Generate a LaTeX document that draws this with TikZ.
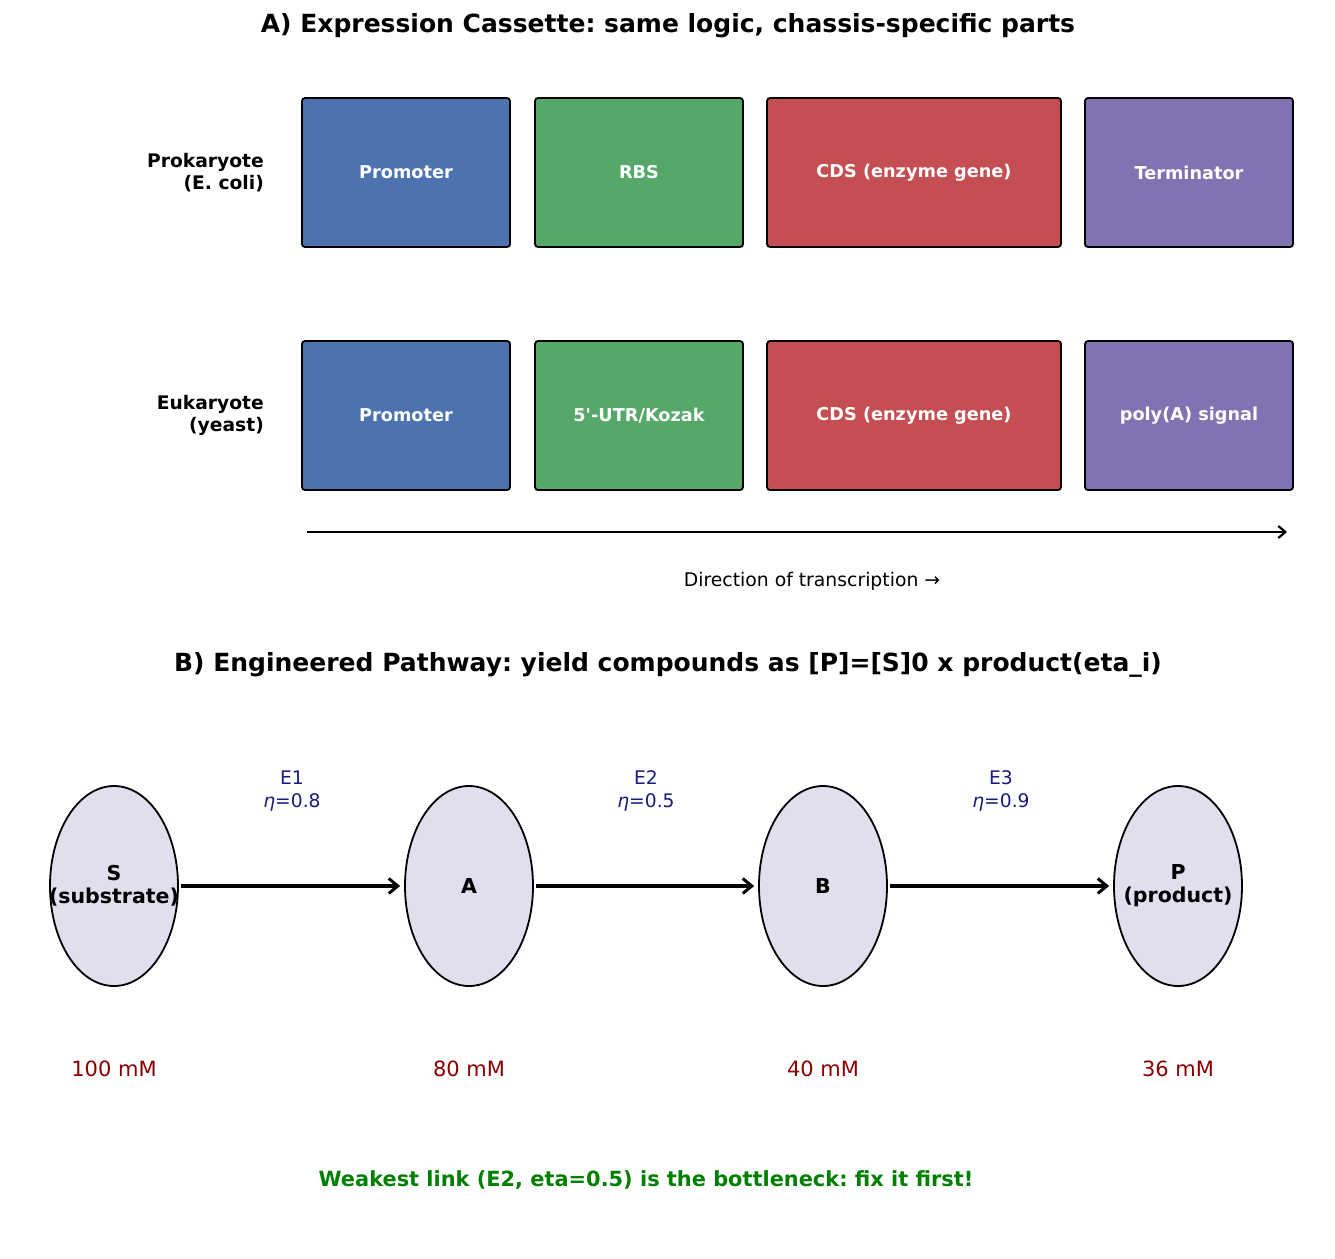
\documentclass[tikz,border=0pt]{standalone}
\usepackage{fontspec}
\setmainfont{DejaVu Sans}
\usetikzlibrary{arrows.meta,shapes.geometric}
\definecolor{cblue}{HTML}{4C72B0}
\definecolor{cgreen}{HTML}{55A868}
\definecolor{cred}{HTML}{C44E52}
\definecolor{cpurple}{HTML}{8172B2}
\definecolor{cell}{HTML}{DFDFEE}
\definecolor{cnavy}{HTML}{1A1A80}
\definecolor{cdred}{HTML}{8B0000}
\definecolor{cgrn}{HTML}{008000}
\tikzset{
  part/.style={draw=black, line width=1.8pt, rounded corners=3pt, inner sep=0pt, text=white,
    font=\fontsize{17.7}{21}\selectfont\bfseries},
  rowlab/.style={align=right, anchor=east, inner sep=0pt, font=\fontsize{18.7}{22}\selectfont\bfseries},
  title/.style={font=\fontsize{25}{29}\selectfont\bfseries},
  metab/.style={ellipse, draw=black, line width=1.8pt, fill=cell, minimum width=128pt, minimum height=200pt,
    inner sep=0pt},
  mtext/.style={align=center, font=\fontsize{20.5}{23}\selectfont\bfseries},
  rxn/.style={line width=4pt, -{Straight Barb[length=9pt,width=15pt,line width=3pt]}, shorten >=4pt, shorten <=2pt},
  enz/.style={align=center, text=cnavy, font=\fontsize{18.7}{23}\selectfont},
  conc/.style={text=cdred, font=\fontsize{21}{24}\selectfont}
}
\begin{document}
\frenchspacing
\begin{tikzpicture}[x=1pt, y=-1pt]
\useasboundingbox (0,0) rectangle (1335,1258);
% Panel A
\node[title] (tA) at (668,26) {A) Expression Cassette: same logic, chassis-specific parts};
\node[rowlab] (l1) at (264,172.5) {Prokaryote\\(E. coli)};
\node[rowlab] (l2) at (264,415.5) {Eukaryote\\(yeast)};
% row 1
\node[part, fill=cblue, minimum width=208pt, minimum height=149pt] (p1) at (406,172.5) {Promoter};
\node[part, fill=cgreen, minimum width=208pt, minimum height=149pt] (r1) at (639,172.5) {RBS};
\node[part, fill=cred, minimum width=294pt, minimum height=149pt] (c1) at (914,172.5) {CDS (enzyme gene)};
\node[part, fill=cpurple, minimum width=208pt, minimum height=149pt] (t1) at (1189,172.5) {Terminator};
% row 2
\node[part, fill=cblue, minimum width=208pt, minimum height=149pt] (p2) at (406,415.5) {Promoter};
\node[part, fill=cgreen, minimum width=208pt, minimum height=149pt] (r2) at (639,415.5) {5\textquotesingle-UTR/Kozak};
\node[part, fill=cred, minimum width=294pt, minimum height=149pt] (c2) at (914,415.5) {CDS (enzyme gene)};
\node[part, fill=cpurple, minimum width=208pt, minimum height=149pt] (t2) at (1189,415.5) {poly(A) signal};
% transcription arrow
\coordinate (ds) at (307,532);
\coordinate (de) at (1287,532);
\draw[line width=2.5pt, -{Straight Barb[length=7pt,width=12pt,line width=2.2pt]}] (ds) -- (de);
\node[font=\fontsize{18.8}{22}\selectfont] (dl) at (812,581) {Direction of transcription →};
% Panel B
\node[title] (tB) at (668,665) {B) Engineered Pathway: yield compounds as [P]=[S]0 x product(eta\_i)};
\node[metab] (S) at (114,886) {};
\node[metab] (A) at (469,886) {};
\node[metab] (B) at (823,886) {};
\node[metab] (P) at (1178,886) {};
\node[mtext] (St) at (S.center) {S\\(substrate)};
\node[mtext] (At) at (A.center) {A};
\node[mtext] (Bt) at (B.center) {B};
\node[mtext] (Pt) at (P.center) {P\\(product)};
\draw[rxn] (S) -- (A);
\draw[rxn] (A) -- (B);
\draw[rxn] (B) -- (P);
\node[enz] (e1) at (292,791) {E1\\{\itshape η}=0.8};
\node[enz] (e2) at (646,791) {E2\\{\itshape η}=0.5};
\node[enz] (e3) at (1001,791) {E3\\{\itshape η}=0.9};
\node[conc] (cS) at (114,1069) {100 mM};
\node[conc] (cA) at (469,1069) {80 mM};
\node[conc] (cB) at (823,1069) {40 mM};
\node[conc] (cP) at (1178,1069) {36 mM};
\node[text=cgrn, font=\fontsize{20.9}{24}\selectfont\bfseries] (note) at (646,1180) {Weakest link (E2, eta=0.5) is the bottleneck: fix it first!};
\end{tikzpicture}
\end{document}
